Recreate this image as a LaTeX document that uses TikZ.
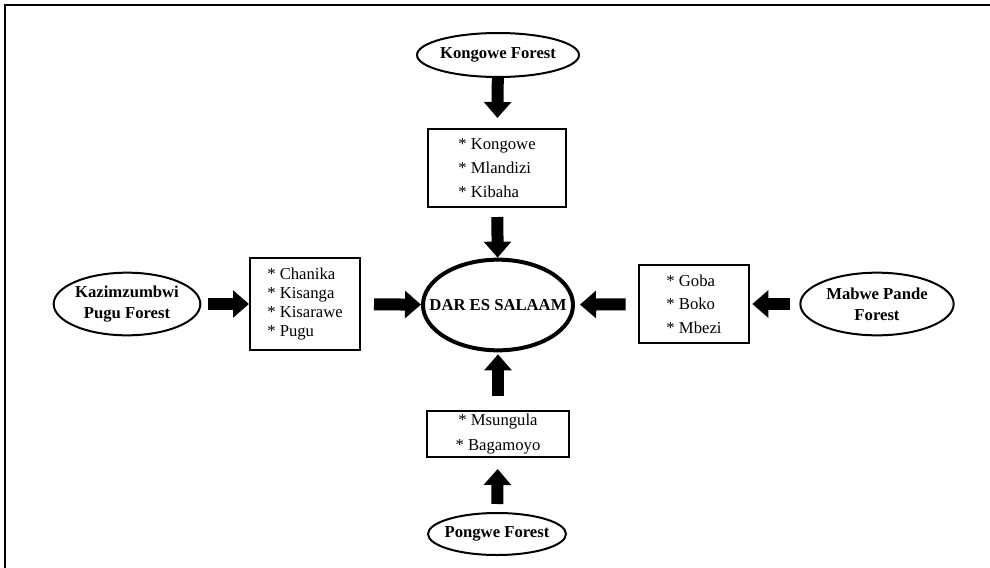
\documentclass[tikz,border=0pt]{standalone}
\usepackage{fontspec}
\setmainfont{Liberation Serif}
\usetikzlibrary{shapes.geometric,arrows.meta,positioning}

\begin{document}
\begin{tikzpicture}[
    x=0.75pt, y=-0.75pt,
    forest/.style={ellipse, draw, line width=1.5pt, inner sep=-30pt, outer sep=0pt,
        font=\bfseries\fontsize{12.5}{15.5}\selectfont, align=center},
    city/.style={ellipse, draw, line width=3pt, inner sep=-30pt, outer sep=0pt,
        minimum width=112.5pt, minimum height=68pt,
        font=\bfseries\fontsize{12.5}{15}\selectfont},
    townbox/.style={rectangle, draw, line width=1.5pt, inner sep=0pt, outer sep=0pt,
        font=\fontsize{12.5}{18}\selectfont},
    flow/.style={line width=9pt, -{Triangle[width=20pt,length=12pt]}}
]
\useasboundingbox (0,0) rectangle (990,568);
% frame
\draw[line width=2pt] (5,600) -- (5,5) -- (1000,5);

% centre
\node[city] (dar) at (498,305) {DAR ES SALAAM};

% north
\node[forest, minimum width=121.5pt, minimum height=33pt] (kongowe) at (498,55) {Kongowe Forest};
\node[townbox, minimum width=104pt, minimum height=58.5pt, align=left] (north) at (497,168)
    {* Kongowe\\* Mlandizi\\* Kibaha};

% west
\node[forest, minimum width=110pt, minimum height=47pt] (kazim) at (127,304)
    {Kazimzumbwi\\Pugu Forest};
\node[townbox, minimum width=82.5pt, minimum height=69pt, align=left,
    font=\fontsize{12.5}{14.25}\selectfont] (west) at (305,304)
    {* Chanika\\* Kisanga\\* Kisarawe\\* Pugu};

% east
\node[townbox, minimum width=83pt, minimum height=59pt, align=left,
    font=\fontsize{12.5}{17.6}\selectfont] (east) at (694,304)
    {* Goba\\* Boko\\* Mbezi};
\node[forest, minimum width=115pt, minimum height=47pt] (mabwe) at (877,304)
    {Mabwe Pande\\Forest};

% south
\node[townbox, minimum width=106pt, minimum height=34.5pt, align=center,
    font=\fontsize{12.5}{18.5}\selectfont] (south) at (498,434)
    {* Msungula\\* Bagamoyo\rule[-1pt]{0pt}{1pt}};
\node[forest, minimum width=103.5pt, minimum height=31.5pt] (pongwe) at (497,534) {Pongwe Forest};

% arrows
\draw[flow, shorten <=0.75pt, shorten >=8.25pt] (kongowe) -- (north);
\draw[flow, shorten <=7.5pt, shorten >=1.5pt] (north) -- (dar);
\draw[flow, shorten <=6pt, shorten >=0.75pt] (kazim) -- (west);
\draw[flow, shorten <=10.5pt, shorten >=1.5pt] (west) -- (dar);
\draw[flow, shorten <=7.5pt, shorten >=2.25pt] (mabwe) -- (east);
\draw[flow, shorten <=9.75pt, shorten >=5.25pt] (east) -- (dar);
\draw[flow, shorten <=6.75pt, shorten >=9pt] (pongwe) -- (south);
\draw[flow, shorten <=11.25pt, shorten >=3pt] (south) -- (dar);
\end{tikzpicture}
\end{document}
